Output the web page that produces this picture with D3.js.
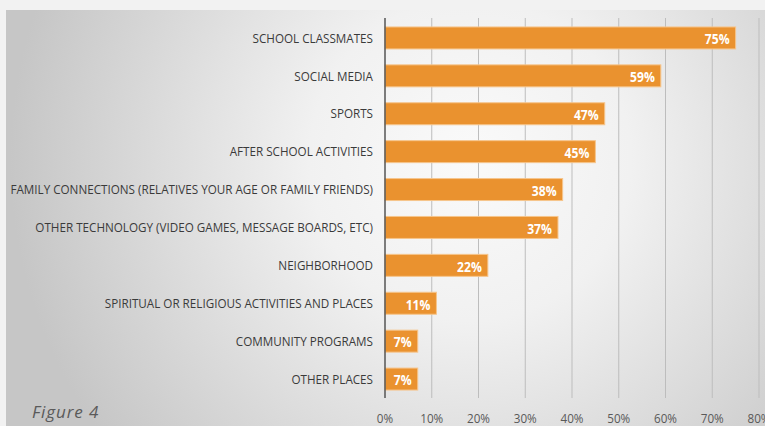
<!DOCTYPE html>
<html>
<head>
<meta charset="utf-8">
<script src="https://cdn.jsdelivr.net/npm/d3@7/dist/d3.min.js"></script>
<style>
  html, body { margin: 0; padding: 0; background: #f2f2f2; }
  svg { display: block; }
</style>
</head>
<body>
<svg id="chart" width="765" height="426"></svg>
<script>
// Where young people meet their friends (share of respondents)
const categories = [
  "SCHOOL CLASSMATES",
  "SOCIAL MEDIA",
  "SPORTS",
  "AFTER SCHOOL ACTIVITIES",
  "FAMILY CONNECTIONS (RELATIVES YOUR AGE OR FAMILY FRIENDS)",
  "OTHER TECHNOLOGY (VIDEO GAMES, MESSAGE BOARDS, ETC)",
  "NEIGHBORHOOD",
  "SPIRITUAL OR RELIGIOUS ACTIVITIES AND PLACES",
  "COMMUNITY PROGRAMS",
  "OTHER PLACES"
];
const values = [0.75, 0.59, 0.47, 0.45, 0.38, 0.37, 0.22, 0.11, 0.07, 0.07];
const xTicks = [0, 0.1, 0.2, 0.3, 0.4, 0.5, 0.6, 0.7, 0.8];
const caption = "Figure 4";

const W = 765, H = 426;
const svg = d3.select("#chart");
const defs = svg.append("defs");

// soft grey panel, brightest near the upper middle
const grad = defs.append("radialGradient")
  .attr("id", "panelGrad")
  .attr("gradientUnits", "userSpaceOnUse")
  .attr("cx", 470).attr("cy", 160).attr("r", 460);
grad.append("stop").attr("offset", "0").attr("stop-color", "#fafafa");
grad.append("stop").attr("offset", "0.35").attr("stop-color", "#f1f1f1");
grad.append("stop").attr("offset", "1").attr("stop-color", "#c6c6c6");

svg.append("rect").attr("x", 0).attr("y", 0).attr("width", W).attr("height", H).attr("fill", "#f2f2f2");
svg.append("rect").attr("x", 6).attr("y", 10).attr("width", W - 6).attr("height", H - 10)
  .attr("fill", "url(#panelGrad)");

const x = d3.scaleLinear().domain([0, 0.8]).range([385, 759]);
const y = d3.scaleBand().domain(categories).range([19, 398])
  .paddingInner(0.42).paddingOuter(0.21);

const font = "'Open Sans', sans-serif";

// vertical gridlines
svg.append("g").selectAll("line")
  .data(xTicks.slice(1))
  .join("line")
  .attr("x1", d => x(d)).attr("x2", d => x(d))
  .attr("y1", 18).attr("y2", 398)
  .attr("stroke", "#bdbdbd").attr("stroke-width", 1);

// bars
svg.append("g").selectAll("rect")
  .data(values)
  .join("rect")
  .attr("x", x(0))
  .attr("y", (d, i) => y(categories[i]))
  .attr("width", d => x(d) - x(0))
  .attr("height", y.bandwidth())
  .attr("fill", "#ea922f")
  .attr("stroke", "#f6c58c")
  .attr("stroke-width", 1);

// axis line at 0%
svg.append("line")
  .attr("x1", x(0)).attr("x2", x(0))
  .attr("y1", 18).attr("y2", 398)
  .attr("stroke", "#555").attr("stroke-width", 1.5);

// narrow the text horizontally (condensed look)
function condensed(sel, k) {
  sel.each(function () {
    const t = d3.select(this);
    const tx = +t.attr("data-x"), ty = +t.attr("data-y");
    t.attr("transform", `translate(${tx},${ty}) scale(${k},1)`);
  });
}

// category labels
const catLabels = svg.append("g").selectAll("text")
  .data(categories)
  .join("text")
  .attr("data-x", 373)
  .attr("data-y", d => y(d) + y.bandwidth() / 2)
  .attr("text-anchor", "end")
  .attr("dominant-baseline", "central")
  .attr("font-family", font)
  .attr("font-size", 13)
  .attr("fill", "#3a3a3a")
  .text(d => d);
const longest = d3.max(catLabels.nodes(), n => n.getComputedTextLength());
const kCat = 363 / longest;
condensed(catLabels, kCat);

// value labels inside bar ends
const fmt = d3.format(".0%");
const valLabels = svg.append("g").selectAll("text")
  .data(values)
  .join("text")
  .attr("data-x", d => x(d) - 6)
  .attr("data-y", (d, i) => y(categories[i]) + y.bandwidth() / 2 + 1)
  .attr("text-anchor", "end")
  .attr("dominant-baseline", "central")
  .attr("font-family", font)
  .attr("font-weight", "bold")
  .attr("font-size", 13.5)
  .attr("fill", "#ffffff")
  .text(d => fmt(d));
condensed(valLabels, kCat);

// x tick labels
const tickLabels = svg.append("g").selectAll("text")
  .data(xTicks)
  .join("text")
  .attr("data-x", d => x(d))
  .attr("data-y", 423)
  .attr("text-anchor", "middle")
  .attr("font-family", font)
  .attr("font-size", 13)
  .attr("fill", "#595959")
  .text(d => fmt(d));
condensed(tickLabels, kCat);

// caption
svg.append("text")
  .attr("x", 32).attr("y", 418)
  .attr("font-family", font)
  .attr("font-style", "italic")
  .attr("font-size", 17)
  .attr("letter-spacing", 0.9)
  .attr("fill", "#5a5a5a")
  .text(caption);
</script>
</body>
</html>
